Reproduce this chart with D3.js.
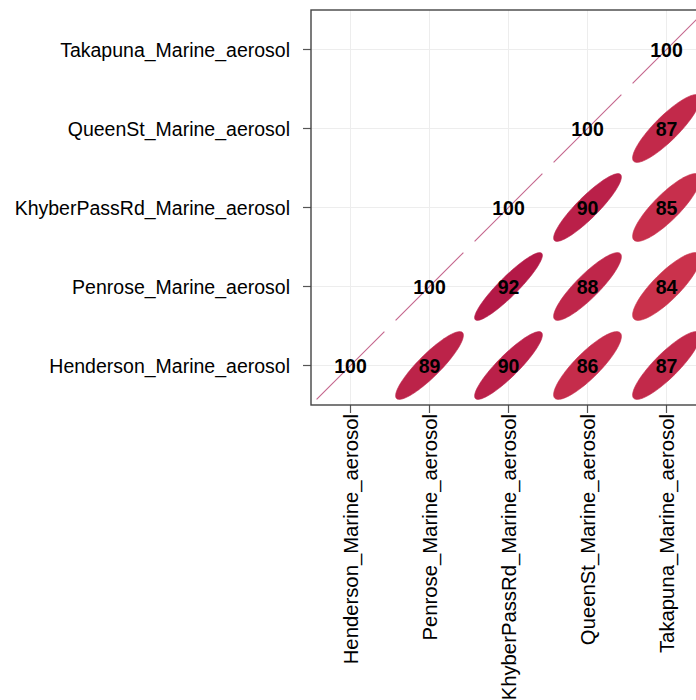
<!DOCTYPE html>
<html>
<head>
<meta charset="utf-8">
<script src="https://cdn.jsdelivr.net/npm/d3@7"></script>
<style>
  html, body { margin: 0; padding: 0; background: #fff; }
  svg { display: block; font-family: "Liberation Sans", Arial, sans-serif; }
</style>
</head>
<body>
<svg id="chart" width="696" height="700"></svg>
<script>
// Site names (bottom-to-top on y, left-to-right on x)
const sites = [
  "Henderson_Marine_aerosol",
  "Penrose_Marine_aerosol",
  "KhyberPassRd_Marine_aerosol",
  "QueenSt_Marine_aerosol",
  "Takapuna_Marine_aerosol"
];

// Correlation (x100) of each row site with each column site; null = not drawn
const rowHenderson    = [100, 89, 90, 86, 87];
const rowPenrose      = [null, 100, 92, 88, 84];
const rowKhyberPassRd = [null, null, 100, 90, 85];
const rowQueenSt      = [null, null, null, 100, 87];
const rowTakapuna     = [null, null, null, null, 100];
const rows = [rowHenderson, rowPenrose, rowKhyberPassRd, rowQueenSt, rowTakapuna];

// Reversed Spectral ramp over the correlation range -1 .. 1
const rampColours = ["#5E4FA2", "#3288BD", "#66C2A5", "#ABDDA4", "#E6F598", "#FFFFBF",
                     "#FEE08B", "#FDAE61", "#F46D43", "#D53E4F", "#9E0142"];

const svg = d3.select("#chart");
const panelLeft = 311, panelTop = 10, cell = 79;
const panelRight = panelLeft + cell * sites.length;
const panelBottom = panelTop + cell * sites.length;

const x = d3.scaleBand().domain(sites).range([panelLeft, panelRight]);
const y = d3.scaleBand().domain(sites).range([panelBottom, panelTop]);
const bw = x.bandwidth();
const cx = s => x(s) + bw / 2;
const cy = s => y(s) + bw / 2;

const colour = d3.scaleLinear()
  .domain(d3.range(rampColours.length).map(i => -1 + 2 * i / (rampColours.length - 1)))
  .range(rampColours);

// Grid lines through the cell centres
const grid = svg.append("g");
sites.forEach(s => {
  grid.append("line").attr("x1", cx(s)).attr("x2", cx(s)).attr("y1", panelTop).attr("y2", panelBottom)
    .attr("stroke", "#ededed").attr("stroke-width", 1);
  grid.append("line").attr("y1", cy(s)).attr("y2", cy(s)).attr("x1", panelLeft).attr("x2", panelRight)
    .attr("stroke", "#ededed").attr("stroke-width", 1);
});

// Correlation ellipses (level 0.9, scale 0.2 of a cell)
const tRad = Math.sqrt(-2 * Math.log(1 - 0.9)) * 0.2;
const cells = [];
rows.forEach((vals, i) => vals.forEach((v, j) => {
  if (v !== null) cells.push({ row: sites[i], col: sites[j], v: v });
}));

function ellipsePoints(d) {
  const r = d.v / 100;
  const dd = Math.acos(Math.min(1, r));
  return d3.range(0, 101).map(k => {
    const a = 2 * Math.PI * k / 100;
    return [cx(d.col) + tRad * bw * Math.cos(a + dd / 2),
            cy(d.row) - tRad * bw * Math.cos(a - dd / 2)];
  });
}

const marks = svg.append("g");
// Filled ellipses for r < 1
marks.selectAll("path").data(cells.filter(d => d.v < 100)).join("path")
  .attr("d", d => d3.line()(ellipsePoints(d)) + "Z")
  .attr("fill", d => colour(d.v / 100))
  .attr("stroke", d => colour(d.v / 100))
  .attr("stroke-width", 0.6)
  .attr("stroke-linejoin", "round");

// r = 1 collapses the ellipse into a diagonal segment
marks.selectAll("line").data(cells.filter(d => d.v >= 100)).join("line")
  .each(function (d) {
    const pts = ellipsePoints(d);
    const xs = d3.extent(pts, p => p[0]);
    const ys = d3.extent(pts, p => p[1]);
    d3.select(this)
      .attr("x1", xs[0]).attr("y1", ys[1])
      .attr("x2", xs[1]).attr("y2", ys[0]);
  })
  .attr("stroke", d => d3.interpolateRgb(colour(d.v / 100), "#ffffff")(0.4))
  .attr("stroke-width", 1.1);

// Value labels
svg.append("g").selectAll("text").data(cells).join("text")
  .attr("x", d => cx(d.col))
  .attr("y", d => cy(d.row))
  .attr("dy", "0.36em")
  .attr("text-anchor", "middle")
  .attr("font-size", "19.5px")
  .attr("font-weight", "bold")
  .attr("fill", "#000")
  .text(d => d.v);

// Axes
const yAxis = svg.append("g").attr("transform", `translate(${panelLeft},0)`)
  .call(d3.axisLeft(y).tickSize(8).tickPadding(13));
const xAxis = svg.append("g").attr("transform", `translate(0,${panelBottom})`)
  .call(d3.axisBottom(x).tickSize(8).tickPadding(10));

[yAxis, xAxis].forEach(g => {
  g.select(".domain").remove();
  g.selectAll(".tick line").attr("stroke", "#555").attr("stroke-width", 1.2);
  g.selectAll(".tick text").attr("font-size", "19.5px").attr("fill", "#000")
    .attr("font-family", "'Liberation Sans', Arial, sans-serif");
});
yAxis.selectAll(".tick text").attr("dy", "0.36em");
xAxis.selectAll(".tick text")
  .attr("transform", "rotate(-90)")
  .attr("text-anchor", "end")
  .attr("font-size", "20.3px")
  .attr("x", -9)
  .attr("y", 0)
  .attr("dy", "0.36em");

// Panel border
svg.append("rect")
  .attr("x", panelLeft).attr("y", panelTop)
  .attr("width", panelRight - panelLeft).attr("height", panelBottom - panelTop)
  .attr("fill", "none").attr("stroke", "#444").attr("stroke-width", 1.4);
</script>
</body>
</html>
